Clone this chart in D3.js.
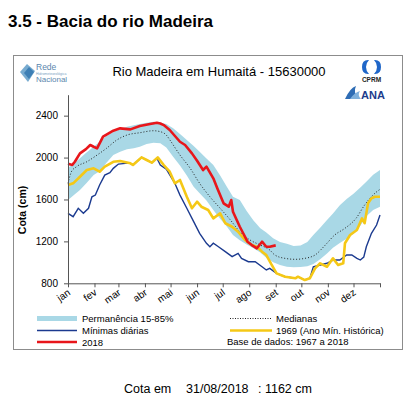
<!DOCTYPE html>
<html>
<head>
<meta charset="utf-8">
<script src="https://cdn.jsdelivr.net/npm/d3@7"></script>
<style>
body{margin:0;background:#fff;}
svg text{font-family:"Liberation Sans",Arial,sans-serif;}
</style>
</head>
<body>
<svg id="chart" width="414" height="398"></svg>
<script>
// month labels and month start (day of year)
var months = ["jan","fev","mar","abr","mai","jun","jul","ago","set","out","nov","dez"];
var monthStart = [0,31,59,90,120,151,181,212,243,273,304,334,365];
var yTicks = [800,1200,1600,2000,2400];

// permanencia 15-85% band
var bandDays = [0,8,14,22,30,37,45,53,61,69,77,84,92,100,108,115,123,131,139,147,154,162,170,178,186,193,201,209,217,225,232,240,248,256,264,272,280,287,295,303,310,318,326,334,342,349,357,365];
var bandHigh = [1900,1950,1993,2050,2103,2150,2205,2245,2270,2294,2308,2320,2332,2342,2335,2320,2279,2225,2167,2110,2056,1990,1929,1830,1720,1626,1595,1490,1400,1325,1285,1230,1195,1178,1155,1160,1195,1260,1330,1405,1465,1545,1605,1655,1715,1770,1835,1881];
var bandLow = [1595,1650,1690,1760,1833,1870,1950,2024,2055,2079,2090,2103,2130,2141,2136,2095,2008,1925,1830,1722,1660,1590,1500,1415,1340,1261,1210,1170,1134,1095,1045,1000,975,958,952,955,962,985,1030,1085,1140,1185,1225,1275,1350,1440,1500,1531];

// medianas
var medDays = [0,4,10,22,34,45,57,69,84,100,108,115,119,131,143,154,166,178,190,201,213,225,236,242,254,266,277,289,301,312,324,337,347,359,365];
var medVals = [1754,1865,1913,1960,2024,2088,2167,2215,2237,2256,2247,2215,2170,2024,1897,1754,1626,1516,1404,1292,1213,1165,1118,1070,1038,1029,1038,1070,1165,1261,1325,1420,1547,1659,1697];

// 1969 (ano minimo historico)
var y1969Days = [0,6,14,22,30,37,43,53,61,73,76,86,92,98,105,112,119,125,131,139,145,151,156,164,170,178,184,192,199,207,215,221,227,232,238,244,254,266,269,277,283,289,295,303,310,316,322,324,330,338,344,347,351,355,359,365];
var y1969Vals = [1738,1754,1817,1881,1897,1865,1913,1960,1967,1945,1929,2002,1977,1951,2002,1929,1865,1754,1786,1626,1516,1579,1531,1500,1420,1468,1373,1340,1292,1213,1165,1149,1102,1070,980,895,863,848,863,831,848,943,991,958,1038,975,991,1182,1261,1309,1420,1373,1563,1611,1626,1626];

// minimas diarias
var minDays = [0,6,12,18,24,28,32,37,43,49,53,59,67,73,76,86,92,98,104,108,115,125,131,139,147,154,162,166,170,176,184,192,199,203,211,219,227,232,236,244,254,266,269,277,283,287,295,303,310,318,326,332,338,342,346,349,355,361,365];
var minVals = [1468,1436,1516,1468,1516,1626,1642,1738,1833,1855,1897,1938,1945,1945,1929,2002,1977,1951,1993,1929,1890,1754,1642,1516,1388,1277,1182,1149,1182,1149,1102,1054,1086,1038,1006,1006,958,927,943,895,863,848,863,831,848,958,975,991,1022,1022,1070,1070,1038,1022,1050,1149,1277,1356,1452];

// 2018
var y2018Days = [0,5,8,14,21,26,30,34,41,53,61,73,84,96,104,108,112,119,131,137,145,151,158,162,170,175,182,188,191,193,201,210,215,221,227,232,236,243];
var y2018Vals = [1940,1930,1960,2040,2080,2120,2103,2088,2199,2256,2279,2269,2301,2320,2332,2325,2310,2263,2151,2120,2040,1970,1881,1913,1802,1700,1563,1531,1595,1483,1340,1197,1165,1134,1197,1149,1149,1162];

var svg = d3.select("#chart");

svg.append("text")
    .attr("x",8).attr("y",26.5)
    .style("font-size","17px").style("font-weight","bold")
    .text("3.5 - Bacia do rio Madeira");

// frame
svg.append("rect")
    .attr("x",13.5).attr("y",55.5).attr("width",389).attr("height",294)
    .attr("fill","#fff").attr("stroke","#8c8c8c").attr("stroke-width",1);

svg.append("text")
    .attr("x",219).attr("y",76)
    .attr("text-anchor","middle")
    .style("font-size","13px")
    .text("Rio Madeira em Humaitá - 15630000");

var xScale = d3.scaleLinear().domain([0,365]).range([68,380]);
var yScale = d3.scaleLinear().domain([800,2600]).range([283.3,94.7]);

var g = svg.append("g");

var area = d3.area()
    .x(function(d){return xScale(d[0]);})
    .y0(function(d){return yScale(d[1]);})
    .y1(function(d){return yScale(d[2]);});

g.append("path")
    .datum(bandDays.map(function(d,i){return [d,bandLow[i],bandHigh[i]];}))
    .attr("d",area)
    .attr("fill","#a9d8e6");

var line = d3.line()
    .x(function(d){return xScale(d[0]);})
    .y(function(d){return yScale(d[1]);});

var zip = function(a,b){return a.map(function(d,i){return [d,b[i]];});};

g.append("path")
    .datum(zip(medDays,medVals))
    .attr("d",line.curve(d3.curveMonotoneX))
    .attr("fill","none").attr("stroke","#222").attr("stroke-width",1)
    .attr("stroke-dasharray","1,2");

line.curve(d3.curveLinear);

g.append("path")
    .datum(zip(minDays,minVals))
    .attr("d",line)
    .attr("fill","none").attr("stroke","#1b3a8f").attr("stroke-width",1.4);

g.append("path")
    .datum(zip(y1969Days,y1969Vals))
    .attr("d",line)
    .attr("fill","none").attr("stroke","#f5c816").attr("stroke-width",2.6)
    .attr("stroke-linejoin","round");

g.append("path")
    .datum(zip(y2018Days,y2018Vals))
    .attr("d",line)
    .attr("fill","none").attr("stroke","#e8161b").attr("stroke-width",2.6)
    .attr("stroke-linejoin","round");

// axes
var yAxis = d3.axisLeft(yScale).tickValues(yTicks).tickSize(4).tickSizeOuter(0).tickPadding(6).tickFormat(d3.format("d"));
var ya = svg.append("g").attr("transform","translate(68,0)").call(yAxis);
ya.selectAll("text").style("font-size","10px").attr("fill","#000");

var xAxis = d3.axisBottom(xScale).tickValues(monthStart).tickSize(4).tickSizeOuter(0).tickFormat("");
svg.append("g").attr("transform","translate(0,283.3)").call(xAxis);

svg.selectAll(".domain, .tick line").attr("stroke","#555");

svg.append("g").selectAll("text")
    .data(months)
    .enter().append("text")
    .attr("text-anchor","end")
    .attr("transform",function(d,i){return "translate("+(xScale(monthStart[i])+3)+",294) rotate(-35)";})
    .style("font-size","10px")
    .text(function(d){return d;});

svg.append("text")
    .attr("transform","translate(26,210) rotate(-90)")
    .attr("text-anchor","middle")
    .style("font-size","10.5px").style("font-weight","bold")
    .text("Cota (cm)");

// legend
var leg = svg.append("g").style("font-size","9.5px");
leg.append("rect").attr("x",37).attr("y",316).attr("width",40).attr("height",5).attr("fill","#a9d8e6");
leg.append("text").attr("x",82).attr("y",322).text("Permanência 15-85%");
leg.append("line").attr("x1",37).attr("x2",77).attr("y1",330.5).attr("y2",330.5).attr("stroke","#1b3a8f").attr("stroke-width",1.4);
leg.append("text").attr("x",82).attr("y",334).text("Mínimas diárias");
leg.append("line").attr("x1",37).attr("x2",77).attr("y1",342).attr("y2",342).attr("stroke","#e8161b").attr("stroke-width",2.6);
leg.append("text").attr("x",82).attr("y",345.5).text("2018");
leg.append("line").attr("x1",230).attr("x2",272).attr("y1",318.5).attr("y2",318.5).attr("stroke","#222").attr("stroke-dasharray","1,1.5");
leg.append("text").attr("x",276).attr("y",322).text("Medianas");
leg.append("line").attr("x1",230).attr("x2",272).attr("y1",330.5).attr("y2",330.5).attr("stroke","#f5c816").attr("stroke-width",2.6);
leg.append("text").attr("x",276).attr("y",334).text("1969 (Ano Mín. Histórica)");
leg.append("text").attr("x",227).attr("y",345).text("Base de dados: 1967 a 2018");

// logos (simplified)
var logo = svg.append("g");
logo.append("path").attr("d","M20,72 L27,64 L35,71 L28,82 Z").attr("fill","#5f9cc8").attr("opacity",0.85);
logo.append("path").attr("d","M24,73 L29,67 L34,72 L29,79 Z").attr("fill","#3d7fb5");
logo.append("text").attr("x",36).attr("y",70).style("font-size","8.5px").attr("fill","#5b86ad").text("Rede");
logo.append("text").attr("x",36).attr("y",75).style("font-size","3.5px").attr("fill","#7aa3c4").text("Hidrometeorológica");
logo.append("text").attr("x",36).attr("y",82).style("font-size","8px").attr("fill","#5b86ad").text("Nacional");

logo.append("path").attr("d","M368,60 Q362,60 362,67 Q362,74 368,74 L369,74 Q366,71 366,67 Q366,63 369,60 Z").attr("fill","#1f66c8");
logo.append("path").attr("d","M375,60 Q381,60 381,67 Q381,74 375,74 L374,74 Q377,71 377,67 Q377,63 374,60 Z").attr("fill","#1f66c8");
logo.append("text").attr("x",371.5).attr("y",82).attr("text-anchor","middle").style("font-size","6.5px").style("font-weight","bold").attr("fill","#222").text("CPRM");

logo.append("path").attr("d","M345,99 Q350,88 356,86 Q353,92 358,99 Z").attr("fill","#2f6db5");
logo.append("path").attr("d","M350,99 Q355,92 360,91 Q357,95 361,99 Z").attr("fill","#7fb0dc");
logo.append("text").attr("x",361).attr("y",99).style("font-size","11px").style("font-weight","bold").attr("fill","#1d3c8c").text("ANA");

// cota
var foot = svg.append("g").style("font-size","12.5px");
foot.append("text").attr("x",124).attr("y",393).text("Cota em");
foot.append("text").attr("x",186).attr("y",393).text("31/08/2018");
foot.append("text").attr("x",258).attr("y",393).text(": 1162 cm");
</script>
</body>
</html>
